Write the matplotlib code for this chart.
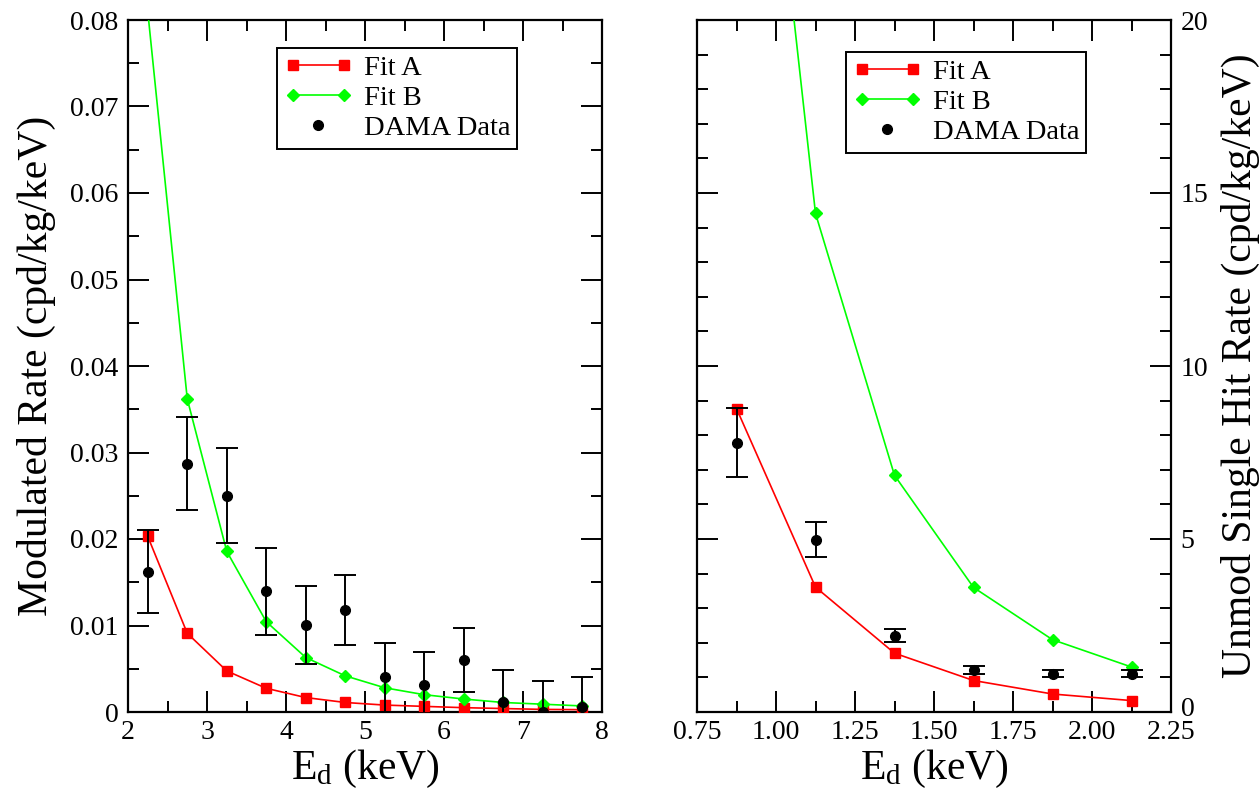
import numpy as np
import matplotlib
matplotlib.use("Agg")
import matplotlib.pyplot as plt
import matplotlib.transforms as mtransforms
from matplotlib.ticker import MultipleLocator, FormatStrFormatter
from matplotlib.legend_handler import HandlerLine2D

plt.rcParams['font.family'] = ['Liberation Serif', 'DejaVu Serif']
plt.rcParams['mathtext.fontset'] = 'custom'
plt.rcParams['mathtext.rm'] = 'Liberation Serif'
plt.rcParams['mathtext.it'] = 'Liberation Serif:italic'

# -----------------------------
# Data: modulated rate (left)
# -----------------------------
E_mod = [2.25, 2.75, 3.25, 3.75, 4.25, 4.75, 5.25, 5.75, 6.25, 6.75, 7.25, 7.75]
fitA_mod = [0.0203, 0.0091, 0.00475, 0.00274, 0.00167, 0.0011, 0.0008,
            0.00065, 0.0005, 0.0004, 0.0003, 0.00027]
fitB_mod = [0.081, 0.0362, 0.01857, 0.01044, 0.0063, 0.00418, 0.0028,
            0.0020, 0.0015, 0.0011, 0.0009, 0.0007]
dama_mod = [0.0162, 0.0287, 0.0250, 0.01395, 0.0101, 0.0118, 0.0040,
            0.0031, 0.0060, 0.0012, 0.0000, 0.0006]
dama_mod_err = [0.0048, 0.0054, 0.0055, 0.0050, 0.0045, 0.0040, 0.0040,
                0.0038, 0.0037, 0.0036, 0.0036, 0.0035]

# -----------------------------
# Data: unmodulated rate (right)
# -----------------------------
E_unmod = [0.875, 1.125, 1.375, 1.625, 1.875, 2.125]
fitA_unmod = [8.77, 3.61, 1.70, 0.91, 0.52, 0.33]
fitB_unmod = [35.0, 14.41, 6.84, 3.60, 2.09, 1.30]
dama_unmod = [7.78, 4.98, 2.20, 1.21, 1.11, 1.11]
dama_unmod_err = [1.0, 0.5, 0.19, 0.11, 0.10, 0.10]

W, H = 1260, 796
fig = plt.figure(figsize=(W / 100, H / 100), dpi=100)

ax1 = fig.add_axes([128 / W, (H - 712) / H, 474 / W, 692 / H])
ax2 = fig.add_axes([697 / W, (H - 712) / H, 474 / W, 692 / H])

tick_fs = 20
label_fs = 30
leg_fs = 20.5


def draw(ax, E, fa, fb, d, derr):
    ax.plot(E, fa, color='#ff0000', lw=1.2, marker='s', ms=7.5,
            mec='#ff0000', label='Fit A', zorder=3)
    ax.plot(E, fb, color='#00ff00', lw=1.2, marker='D', ms=6.5,
            mec='#00ff00', label='Fit B', zorder=3)
    ax.errorbar(E, d, yerr=derr, fmt='none', ecolor='black', elinewidth=1.4,
                capsize=8, capthick=1.4, zorder=4)
    dots, = ax.plot(E, d, 'o', color='black', ms=7, label='DAMA Data',
                    zorder=5)
    return dots


def style(ax):
    for s in ax.spines.values():
        s.set_linewidth(1.6)
    ax.tick_params(which='both', direction='in', top=True, right=True,
                   width=1.4, labelsize=tick_fs)
    ax.tick_params(which='major', length=15)
    ax.tick_params(which='minor', length=8)
    ax.tick_params(axis='x', which='both', pad=6)
    ax.tick_params(axis='y', which='both', pad=7)


def add_legend(ax, dots, dy):
    leg = ax.legend(loc='upper left', bbox_to_anchor=(149 / 474, 1 - dy / 692),
                    borderaxespad=0, fontsize=leg_fs, numpoints=2,
                    handlelength=2.4, handletextpad=0.4, labelspacing=0.15,
                    borderpad=0.25, fancybox=False, edgecolor='black',
                    framealpha=1,
                    handler_map={dots: HandlerLine2D(numpoints=1)})
    leg.get_frame().set_linewidth(1.4)
    return leg


# -----------------------------
# Left panel
# -----------------------------
dots1 = draw(ax1, E_mod, fitA_mod, fitB_mod, dama_mod, dama_mod_err)
ax1.set_xlim(2, 8)
ax1.set_ylim(0, 0.08)
ax1.xaxis.set_major_locator(MultipleLocator(1))
ax1.xaxis.set_minor_locator(MultipleLocator(0.5))
ax1.yaxis.set_major_locator(MultipleLocator(0.01))
ax1.yaxis.set_minor_locator(MultipleLocator(0.005))
ax1.yaxis.set_major_formatter(
    plt.FuncFormatter(lambda v, p: '0' if abs(v) < 1e-9 else f'{v:.2f}'))
style(ax1)
ax1.set_xlabel(r'E$_\mathregular{d}$ (keV)', fontsize=label_fs)
ax1.set_ylabel('Modulated Rate (cpd/kg/keV)', fontsize=label_fs)
ax1.xaxis.set_label_coords(0.5, -0.052)
ax1.yaxis.set_label_coords(-0.152, 0.5)
add_legend(ax1, dots1, 28)

# -----------------------------
# Right panel
# -----------------------------
dots2 = draw(ax2, E_unmod, fitA_unmod, fitB_unmod, dama_unmod, dama_unmod_err)
ax2.set_xlim(0.75, 2.25)
ax2.set_ylim(0, 20)
ax2.xaxis.set_major_locator(MultipleLocator(0.25))
ax2.xaxis.set_minor_locator(MultipleLocator(0.125))
ax2.xaxis.set_major_formatter(FormatStrFormatter('%.2f'))
ax2.yaxis.set_major_locator(MultipleLocator(5))
ax2.yaxis.set_minor_locator(MultipleLocator(1))
style(ax2)
ax2.tick_params(axis='y', which='both', labelleft=False, labelright=True)
ax2.yaxis.set_label_position('right')
ax2.set_xlabel(r'E$_\mathregular{d}$ (keV)', fontsize=label_fs)
ax2.set_ylabel('Unmod Single Hit Rate (cpd/kg/keV)', fontsize=label_fs)
ax2.xaxis.set_label_coords(0.5, -0.052)
ax2.yaxis.set_label_coords(1.105, 0.5)
add_legend(ax2, dots2, 32)

# nudge the right-hand "0" up a little so it clears the "2.25" label
fig.canvas.draw()
for t in ax2.yaxis.get_major_ticks():
    if abs(t.get_loc()) < 1e-9:
        t.label2.set_transform(t.label2.get_transform() +
                               mtransforms.ScaledTranslation(0, 6 / 100,
                                                             fig.dpi_scale_trans))

fig.savefig('out.png', dpi=100)
